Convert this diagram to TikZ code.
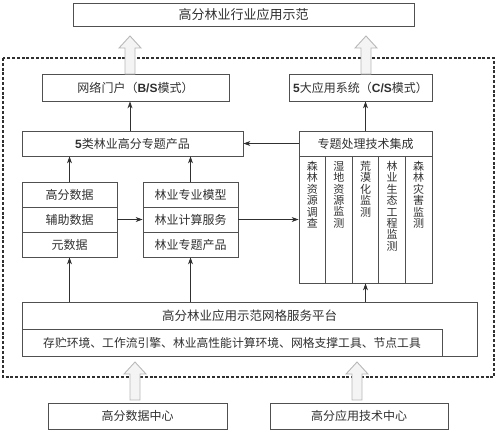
\documentclass[tikz,border=0pt]{standalone}
\usepackage{fontspec}
\setmainfont{Noto Sans CJK SC}
\newfontfamily\latf{Liberation Sans}
\usetikzlibrary{arrows.meta}
\definecolor{linec}{HTML}{505050}
\definecolor{textc}{HTML}{303030}
\definecolor{hfill}{HTML}{F4F4F4}
\definecolor{hdraw}{HTML}{B8B8B8}
\newcommand{\hollowup}[3]{%
  \fill[hfill,draw=hdraw,line width=0.9pt,line join=miter]
    (#1-5,#2) -- (#1-5,#3+12) -- (#1-11,#3+12) -- (#1,#3) -- (#1+11,#3+12) -- (#1+5,#3+12) -- (#1+5,#2) -- cycle;}
\begin{document}
\begin{tikzpicture}[x=1pt,y=-1pt,
  box/.style={draw=linec,line width=0.8pt,inner sep=0pt,text=textc,font=\fontsize{12}{14}\selectfont},
  coltext/.style={inner sep=0pt,text=textc,align=center,anchor=north,font=\fontsize{11}{11.4}\selectfont},
  arr/.style={draw=textc,line width=0.8pt,-{Stealth[length=7pt,width=5pt]}}]
\useasboundingbox (0,0) rectangle (500,432);
% dashed frame
\draw[textc,line width=1.1pt,dash pattern=on 3pt off 1.8pt] (3,58) rectangle (494,377);
% top
\node[box,minimum width=341,minimum height=23,font=\fontsize{13}{15}\selectfont] (top) at (243.5,14.5) {高分林业行业应用示范};
\node[box,minimum width=187,minimum height=27] (portal) at (135.5,87.5) {网络门户（{\latf\bfseries B/S}模式）};
\node[box,minimum width=143,minimum height=27] (app5) at (360.5,87.5) {{\latf\bfseries 5}大应用系统（{\latf\bfseries C/S}模式）};
\node[box,minimum width=221,minimum height=25] (cls5) at (132.5,143.5) {{\latf\bfseries 5}类林业高分专题产品};
\node[box,minimum width=133,minimum height=25] (integ) at (365.5,143.5) {专题处理技术集成};
% left stack
\node[box,minimum width=95,minimum height=25] (l1) at (69.5,194.5) {高分数据};
\node[box,minimum width=95,minimum height=25] (l2) at (69.5,219.5) {辅助数据};
\node[box,minimum width=95,minimum height=25] (l3) at (69.5,244.5) {元数据};
% mid stack
\node[box,minimum width=95,minimum height=25] (m1) at (190.5,194.5) {林业专业模型};
\node[box,minimum width=95,minimum height=25] (m2) at (190.5,219.5) {林业计算服务};
\node[box,minimum width=95,minimum height=25] (m3) at (190.5,244.5) {林业专题产品};
% columns
\node[box,minimum width=133,minimum height=127] (cols) at (365.5,219.5) {};
\foreach \xx in {325.6,352.2,378.8,405.4} \draw[linec,line width=0.8pt] (\xx,156) -- (\xx,283);
\node[coltext] (c1) at (312.3,161) {森\\林\\资\\源\\调\\查};
\node[coltext] (c2) at (338.9,161) {湿\\地\\资\\源\\监\\测};
\node[coltext] (c3) at (365.5,161) {荒\\漠\\化\\监\\测};
\node[coltext] (c4) at (392.1,161) {林\\业\\生\\态\\工\\程\\监\\测};
\node[coltext] (c5) at (418.7,161) {森\\林\\灾\\害\\监\\测};
% platform
\node[box,minimum width=455,minimum height=54] (plat) at (249.5,329) {};
\node[inner sep=0pt,text=textc,font=\fontsize{12.5}{14}\selectfont] (plattitle) at (249.5,315.5) {高分林业应用示范网格服务平台};
\node[box,minimum width=420,minimum height=27,font=\fontsize{11.8}{14}\selectfont] (tools) at (232,342.5) {存贮环境、工作流引擎、林业高性能计算环境、网格支撑工具、节点工具};
% bottom
\node[box,minimum width=179,minimum height=26] (dc1) at (137.5,416) {高分数据中心};
\node[box,minimum width=178,minimum height=26] (dc2) at (359,416) {高分应用技术中心};
% arrows
\draw[arr] ([xshift=-2.5pt]cls5.north) -- ([xshift=-2.5pt]cls5.north |- portal.south);
\draw[arr] (integ.north) -- (integ.north |- app5.south);
\draw[arr] (integ.west) -- (cls5.east);
\draw[arr] (l1.north |- plat.north) -- (l3.south);
\draw[arr] (m1.north |- plat.north) -- (m3.south);
\draw[arr] (cols.south |- plat.north) -- (cols.south);
\draw[arr] (l1.north) -- (l1.north |- cls5.south);
\draw[arr] (m1.north) -- (m1.north |- cls5.south);
\draw[arr] (l2.east) -- (m2.west);
\draw[arr] (m2.east) -- (m2.east -| cols.west);
% hollow arrows
\hollowup{130}{74}{36}
\hollowup{366}{74}{36}
\hollowup{135}{400}{362}
\hollowup{357}{400}{362}
\end{tikzpicture}
\end{document}
